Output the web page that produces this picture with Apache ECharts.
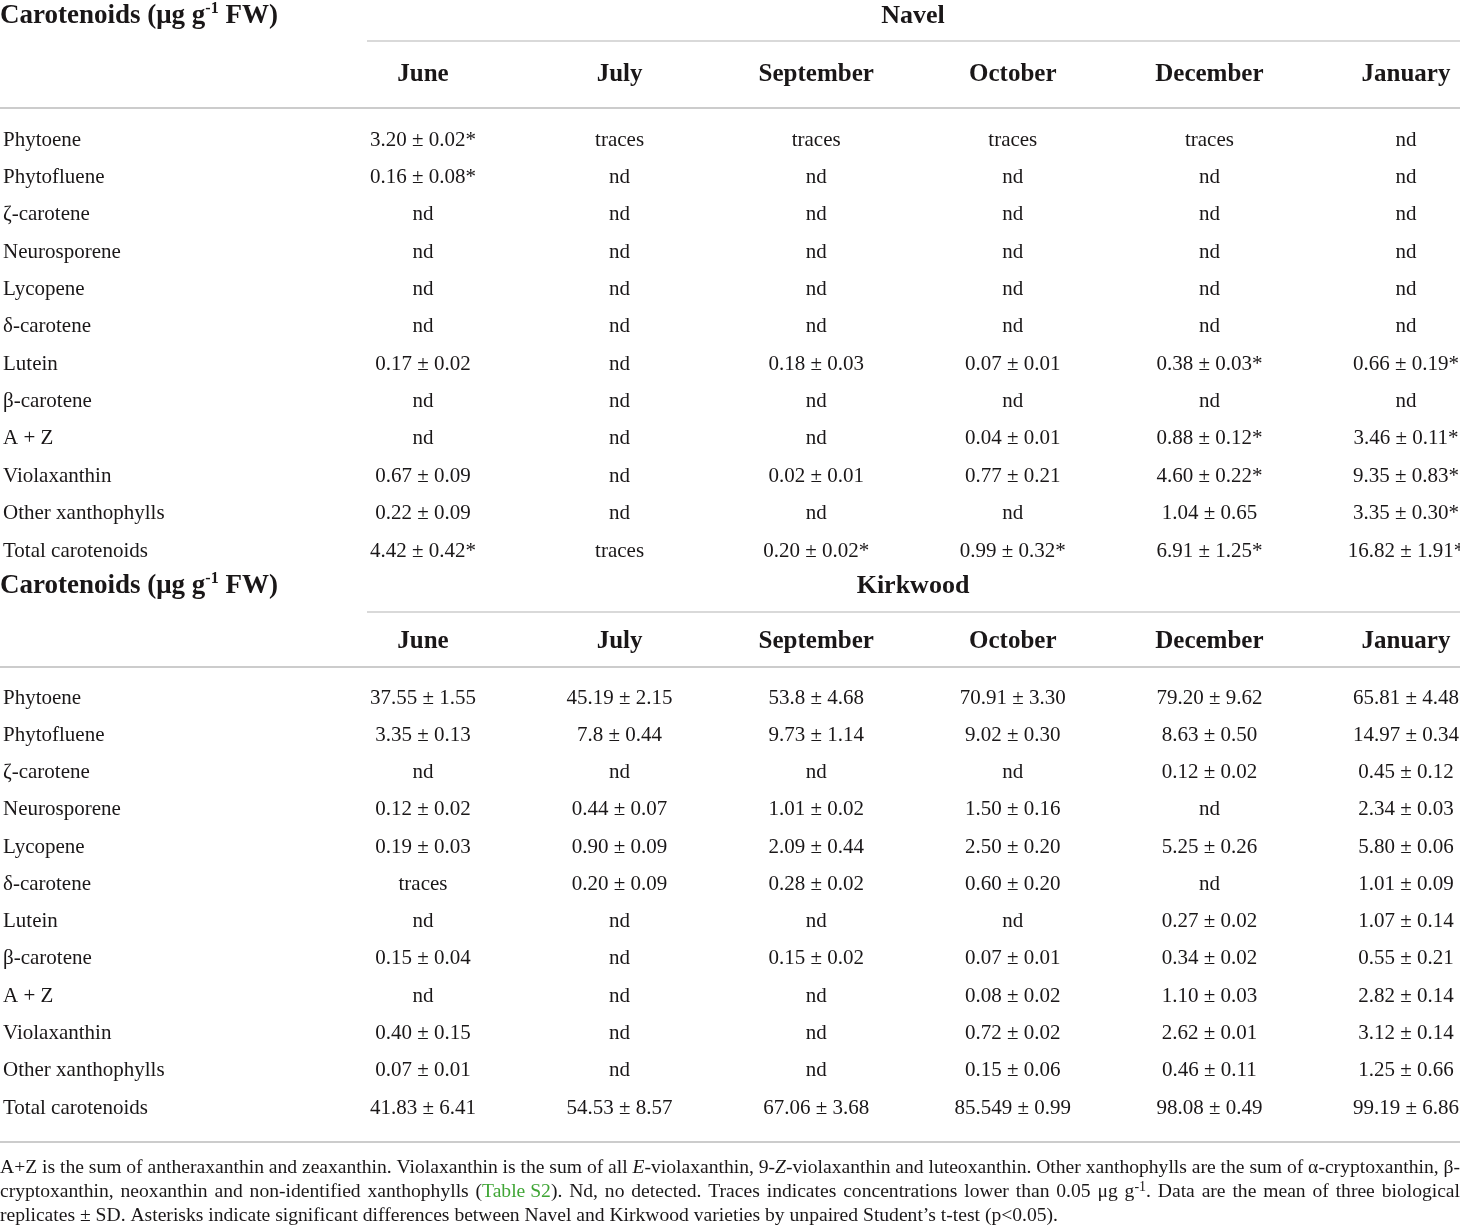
<!DOCTYPE html>
<html><head><meta charset="utf-8">
<script src="https://cdn.jsdelivr.net/npm/echarts@6/dist/echarts.min.js"></script>
<style>html,body{margin:0;padding:0;background:#fff}#c{width:1460px;height:1228px}</style>
</head><body><div id="c"></div><script>
// ---------- data ----------
const months = ['June','July','September','October','December','January'];
const compounds = ['Phytoene','Phytofluene','ζ-carotene','Neurosporene','Lycopene','δ-carotene','Lutein','β-carotene','A + Z','Violaxanthin','Other xanthophylls','Total carotenoids'];
const varieties = ['Navel','Kirkwood'];
const unitTitle = ['Carotenoids (μg g', '-1', ' FW)'];

const navelJune      = ['3.20 ± 0.02*','0.16 ± 0.08*','nd','nd','nd','nd','0.17 ± 0.02','nd','nd','0.67 ± 0.09','0.22 ± 0.09','4.42 ± 0.42*'];
const navelJuly      = ['traces','nd','nd','nd','nd','nd','nd','nd','nd','nd','nd','traces'];
const navelSeptember = ['traces','nd','nd','nd','nd','nd','0.18 ± 0.03','nd','nd','0.02 ± 0.01','nd','0.20 ± 0.02*'];
const navelOctober   = ['traces','nd','nd','nd','nd','nd','0.07 ± 0.01','nd','0.04 ± 0.01','0.77 ± 0.21','nd','0.99 ± 0.32*'];
const navelDecember  = ['traces','nd','nd','nd','nd','nd','0.38 ± 0.03*','nd','0.88 ± 0.12*','4.60 ± 0.22*','1.04 ± 0.65','6.91 ± 1.25*'];
const navelJanuary   = ['nd','nd','nd','nd','nd','nd','0.66 ± 0.19*','nd','3.46 ± 0.11*','9.35 ± 0.83*','3.35 ± 0.30*','16.82 ± 1.91*'];

const kirkJune      = ['37.55 ± 1.55','3.35 ± 0.13','nd','0.12 ± 0.02','0.19 ± 0.03','traces','nd','0.15 ± 0.04','nd','0.40 ± 0.15','0.07 ± 0.01','41.83 ± 6.41'];
const kirkJuly      = ['45.19 ± 2.15','7.8 ± 0.44','nd','0.44 ± 0.07','0.90 ± 0.09','0.20 ± 0.09','nd','nd','nd','nd','nd','54.53 ± 8.57'];
const kirkSeptember = ['53.8 ± 4.68','9.73 ± 1.14','nd','1.01 ± 0.02','2.09 ± 0.44','0.28 ± 0.02','nd','0.15 ± 0.02','nd','nd','nd','67.06 ± 3.68'];
const kirkOctober   = ['70.91 ± 3.30','9.02 ± 0.30','nd','1.50 ± 0.16','2.50 ± 0.20','0.60 ± 0.20','nd','0.07 ± 0.01','0.08 ± 0.02','0.72 ± 0.02','0.15 ± 0.06','85.549 ± 0.99'];
const kirkDecember  = ['79.20 ± 9.62','8.63 ± 0.50','0.12 ± 0.02','nd','5.25 ± 0.26','nd','0.27 ± 0.02','0.34 ± 0.02','1.10 ± 0.03','2.62 ± 0.01','0.46 ± 0.11','98.08 ± 0.49'];
const kirkJanuary   = ['65.81 ± 4.48','14.97 ± 0.34','0.45 ± 0.12','2.34 ± 0.03','5.80 ± 0.06','1.01 ± 0.09','1.07 ± 0.14','0.55 ± 0.21','2.82 ± 0.14','3.12 ± 0.14','1.25 ± 0.66','99.19 ± 6.86'];

const footnoteLines = [
  'A+Z is the sum of antheraxanthin and zeaxanthin. Violaxanthin is the sum of all {i|E}-violaxanthin, 9-{i|Z}-violaxanthin and luteoxanthin. Other xanthophylls are the sum of α-cryptoxanthin, β-',
  'cryptoxanthin, neoxanthin and non-identified xanthophylls ({g|Table S2}). Nd, no detected. Traces indicates concentrations lower than 0.05 μg g{sup|-1}. Data are the mean of three biological',
  'replicates ± SD. Asterisks indicate significant differences between Navel and Kirkwood varieties by unpaired Student\u2019s t-test (p<0.05).'
];

// ---------- layout / style ----------
const W = 1460;
const FONT = 'Liberation Serif';
const INK = '#1a1718';
const RULE = '#cccccc';
const GRID_LEFT = 417;
const blocks = [
  { cols: [navelJune, navelJuly, navelSeptember, navelOctober, navelDecember, navelJanuary], top: 140, height: 411, titleY: 16, headY: 75, rule1: 41, rule2: 108 },
  { cols: [kirkJune, kirkJuly, kirkSeptember, kirkOctober, kirkDecember, kirkJanuary], top: 698, height: 410, titleY: 586, headY: 642, rule1: 612, rule2: 667 }
];
const bottomRule = 1142;
const footTop = 1168, footStep = 24, footLastWidth = 1057;

// measuring helper
const cv = document.createElement('canvas').getContext('2d');
function segs(str) {
  const out = []; const re = /\{(\w+)\|([^}]*)\}/g; let last = 0, m;
  while ((m = re.exec(str))) {
    if (m.index > last) out.push({ s: 'n', t: str.slice(last, m.index) });
    out.push({ s: m[1], t: m[2] }); last = re.lastIndex;
  }
  if (last < str.length) out.push({ s: 'n', t: str.slice(last) });
  return out;
}
function fontFor(s, fs) {
  if (s === 'i') return 'italic ' + fs + 'px "' + FONT + '"';
  if (s === 'sup') return Math.round(fs * 0.7) + 'px "' + FONT + '"';
  return fs + 'px "' + FONT + '"';
}
function measure(str, fs) {
  return segs(str).reduce((a, g) => { cv.font = fontFor(g.s, fs); return a + cv.measureText(g.t).width; }, 0);
}
let footFs = 18 * footLastWidth / measure(footnoteLines[2], 18);
footFs = Math.round(footFs * 10) / 10;

const grids = [], xAxes = [], yAxes = [], series = [], graphics = [];
blocks.forEach((b, bi) => {
  grids.push({ left: GRID_LEFT, right: 54, top: b.top, height: b.height, containLabel: false });
  xAxes.push({
    type: 'category', gridIndex: bi, data: months, position: 'top', boundaryGap: false,
    axisLine: { show: false }, axisTick: { show: false }, splitLine: { show: false },
    axisLabel: { interval: 0, margin: b.top - b.headY, verticalAlign: 'middle', color: INK, fontFamily: FONT, fontWeight: 'bold', fontSize: 25 }
  });
  yAxes.push({
    type: 'category', gridIndex: bi, data: compounds, inverse: true, boundaryGap: false,
    axisLine: { show: false }, axisTick: { show: false }, splitLine: { show: false },
    axisLabel: { interval: 0, margin: GRID_LEFT + 3, align: 'left', color: INK, fontFamily: FONT, fontSize: 21 }
  });
  const data = [];
  b.cols.forEach((col, ci) => col.forEach((txt, ri) => data.push([ci, ri, txt])));
  series.push({
    type: 'scatter', xAxisIndex: bi, yAxisIndex: bi, data, symbolSize: 1, silent: true,
    itemStyle: { color: 'rgba(0,0,0,0)' },
    label: { show: true, position: 'inside', formatter: p => p.data[2], color: INK, fontFamily: FONT, fontSize: 21, textBorderWidth: 0, textBorderColor: 'transparent', opacity: 1 },
    emphasis: { disabled: true }
  });
  graphics.push({
    type: 'text', x: 0, y: b.titleY, silent: true,
    style: {
      text: '{b|' + unitTitle[0] + '}{sup|' + unitTitle[1] + '}{b|' + unitTitle[2] + '}',
      verticalAlign: 'middle', align: 'left',
      rich: {
        b: { fontFamily: FONT, fontWeight: 'bold', fontSize: 27, fill: INK, lineHeight: 30 },
        sup: { fontFamily: FONT, fontWeight: 'bold', fontSize: 16, fill: INK, lineHeight: 16, verticalAlign: 'top' }
      }
    }
  });
  graphics.push({
    type: 'text', x: 913, y: b.titleY, silent: true,
    style: { text: varieties[bi], fontFamily: FONT, fontWeight: 'bold', fontSize: 26, fill: INK, align: 'center', verticalAlign: 'middle' }
  });
  graphics.push({ type: 'line', silent: true, shape: { x1: 367, y1: b.rule1, x2: W, y2: b.rule1 }, style: { stroke: RULE, lineWidth: 1.3 } });
  graphics.push({ type: 'line', silent: true, shape: { x1: 0, y1: b.rule2, x2: W, y2: b.rule2 }, style: { stroke: RULE, lineWidth: 2 } });
});
graphics.push({ type: 'line', silent: true, shape: { x1: 0, y1: bottomRule, x2: W, y2: bottomRule }, style: { stroke: RULE, lineWidth: 2 } });

const richFoot = {
  n: { fontFamily: FONT, fontSize: footFs, fill: INK },
  i: { fontFamily: FONT, fontStyle: 'italic', fontSize: footFs, fill: INK },
  g: { fontFamily: FONT, fontSize: footFs, fill: '#3fa535' },
  sup: { fontFamily: FONT, fontSize: Math.round(footFs * 0.7), fill: INK, lineHeight: Math.round(footFs * 0.7), verticalAlign: 'top' }
};
footnoteLines.forEach((line, li) => {
  const words = [];
  let cur = '', inTag = false;
  for (const ch of line) {
    if (ch === '{') inTag = true;
    if (ch === '}') inTag = false;
    if (ch === ' ' && !inTag) { if (cur) words.push(cur); cur = ''; }
    else cur += ch;
  }
  if (cur) words.push(cur);
  const widths = words.map(w => measure(w, footFs));
  const total = widths.reduce((a, v) => a + v, 0);
  cv.font = fontFor('n', footFs);
  const justify = li < footnoteLines.length - 1;
  const gap = justify ? (W - total) / (words.length - 1) : cv.measureText(' ').width;
  let x = 0;
  const y = footTop + li * footStep;
  words.forEach((w, wi) => {
    const txt = segs(w).map(g => '{' + g.s + '|' + g.t + '}').join('');
    graphics.push({
      type: 'text', x: x, y: y, silent: true,
      style: { text: txt, rich: richFoot, verticalAlign: 'middle', align: 'left', lineHeight: footFs + 4 }
    });
    x += widths[wi] + gap;
  });
});

const chart = echarts.init(document.getElementById('c'), null, { renderer: 'canvas' });
chart.setOption({
  backgroundColor: '#ffffff',
  animation: false,
  grid: grids, xAxis: xAxes, yAxis: yAxes, series: series,
  graphic: graphics
});
</script></body></html>
